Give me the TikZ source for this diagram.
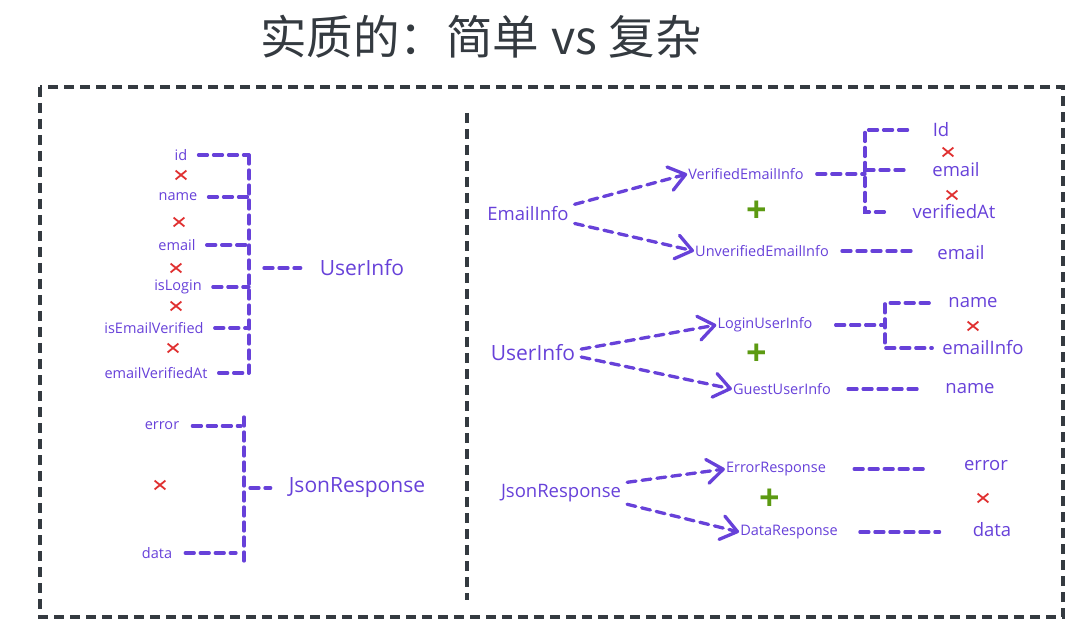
\documentclass[tikz,border=0pt]{standalone}
\usepackage{fontspec}
\usetikzlibrary{arrows.meta,shapes.misc}
\newfontfamily\handfont{Open Sans}
\newfontfamily\cjkfont{Noto Sans CJK SC}
\definecolor{vio}{HTML}{6741D9}
\definecolor{frm}{HTML}{343A40}
\definecolor{xred}{HTML}{E03131}
\definecolor{pgreen}{HTML}{5C9A12}
\tikzset{
  sm/.style={text=vio, font=\handfont\fontsize{14.5}{16}\selectfont, inner sep=1pt},
  md/.style={text=vio, font=\handfont\fontsize{18.5}{20}\selectfont, inner sep=1pt},
  lg/.style={text=vio, font=\handfont\fontsize{21}{23}\selectfont, inner sep=1pt},
  dl/.style={draw=vio, line width=3.3pt, dash pattern=on 9pt off 6pt, line cap=round},
  arr/.style={dl, shorten <=5pt, -{Straight Barb[length=16pt,width=24pt,line width=3.3pt,round]}},
  xm/.style={cross out, draw=xred, line width=1.8pt, minimum width=9pt, minimum height=7pt, inner sep=0pt},
  plusmark/.style={text=pgreen, font=\handfont\bfseries\fontsize{36}{36}\selectfont, inner sep=0pt},
  frame/.style={draw=frm, line width=3.2pt, dash pattern=on 10pt off 6pt}
}
\begin{document}
\begin{tikzpicture}[x=1pt,y=-1pt]
\useasboundingbox (0,0) rectangle (1080,631);
% title
\node[text=frm, font=\cjkfont\fontsize{46.5}{50}\selectfont, inner sep=0pt] (title) at (481,37) {实质的：简单\hspace{0.25em}vs\hspace{0.25em}复杂};
% frame and divider
\draw[frame] (40,87) rectangle (1063,617);
\coordinate (dvt) at (467,113);
\coordinate (dvb) at (467,600);
\draw[frame] (dvt) -- (dvb);

% ---------- left: UserInfo ----------
\node[sm] (id) at (181,155) {id};
\node[xm] (x1) at (181,175) {};
\node[sm] (name) at (178,197) {name};
\node[xm] (x2) at (179,222) {};
\node[sm] (email) at (177,245) {email};
\node[xm] (x3) at (176,268) {};
\node[sm] (islogin) at (178,287) {isLogin};
\node[xm] (x4) at (176,306) {};
\node[sm] (isev) at (154,328) {isEmailVerified};
\node[xm] (x5) at (173,348) {};
\node[sm] (evat) at (156,373) {emailVerifiedAt};
\coordinate (ut) at (249,155);
\coordinate (ub) at (249,373);
\draw[dl] (ut) -- (ub);
\foreach \n in {id,name,email,islogin,isev,evat}
  \draw[dl, shorten <=10pt] (\n.east) -- (\n.east -| ut);
\node[lg] (ui) at (362,268) {UserInfo};
\draw[dl, shorten <=15pt, shorten >=18pt] (ui.west -| ut) -- (ui.west);

% ---------- left: JsonResponse ----------
\node[sm] (err) at (162,426) {error};
\node[xm] (x6) at (160,485) {};
\node[sm] (data) at (157,553) {data};
\coordinate (jt) at (244,417);
\coordinate (jb) at (244,563);
\draw[dl] (jt) -- (jb);
\draw[dl, shorten <=12pt, shorten >=3pt] (err.east) -- (err.east -| jt);
\draw[dl, shorten <=12pt, shorten >=8pt] (data.east) -- (data.east -| jt);
\node[lg] (jr) at (357,488) {JsonResponse};
\draw[dl, shorten <=6pt, shorten >=17pt] (jr.west -| jt) -- (jr.west);

% ---------- right: EmailInfo ----------
\node[md] (ei) at (528,214) {EmailInfo};
\node[sm] (vei) at (746,174) {VerifiedEmailInfo};
\node[sm] (uei) at (762,251) {UnverifiedEmailInfo};
\draw[arr] (ei.north east) -- (vei.west);
\draw[arr] (ei.south east) -- (uei.west);
\node[plusmark] (p1) at (757,212) {+};
\node[md] (rid) at (941,130) {Id};
\node[xm] (x7) at (948,152) {};
\node[md] (rem) at (956,170) {email};
\node[xm] (x8) at (952,195) {};
\node[md] (rva) at (954,212) {verifiedAt};
\coordinate (bk1) at (865,172);
\draw[dl, shorten <=12pt] (vei.east) -- (vei.east -| bk1);
\draw[dl, shorten <=24pt, shorten >=22pt] (rid.west) -- (rid.west -| bk1) -- (rva.west -| bk1) -- (rva.west);
\draw[dl, shorten >=22pt] (rem.west -| bk1) -- (rem.west);
\node[md] (rem2) at (961,253) {email};
\draw[dl, shorten <=12pt, shorten >=23pt] (uei.east) -- (uei.east -| rem2.west);

% ---------- right: UserInfo ----------
\node[lg] (ui2) at (533,353) {UserInfo};
\node[sm] (lui) at (765,325) {LoginUserInfo};
\node[sm] (gui) at (782,389) {GuestUserInfo};
\draw[arr] ([yshift=3pt]ui2.east) -- (lui.west);
\draw[arr] ([yshift=-3pt]ui2.east) -- (gui.west);
\node[plusmark] (p2) at (757,355) {+};
\node[md] (rn1) at (973,303) {name};
\node[xm] (x9) at (973,326) {};
\node[md] (rei) at (983,348) {emailInfo};
\coordinate (bk2) at (885,327);
\draw[dl, shorten <=22pt] (lui.east) -- (lui.east -| bk2);
\draw[dl, shorten <=18pt, shorten >=9pt] (rn1.west) -- (rn1.west -| bk2) -- (rei.west -| bk2) -- (rei.west);
\node[md] (rn2) at (970,389) {name};
\draw[dl, shorten <=16pt, shorten >=25pt] (gui.east) -- (gui.east -| rn2.west);

% ---------- right: JsonResponse ----------
\node[md] (jr2) at (561,493) {JsonResponse};
\node[sm] (er) at (776,469) {ErrorResponse};
\node[sm] (dr) at (789,532) {DataResponse};
\draw[arr] (jr2.north east) -- (er.west);
\draw[arr] (jr2.south east) -- (dr.west);
\node[plusmark] (p3) at (770,500) {+};
\node[md] (rerr) at (986,466) {error};
\node[xm] (x10) at (983,498) {};
\node[md] (rdat) at (992,530) {data};
\draw[dl, shorten <=27pt, shorten >=37pt] (er.east) -- (er.east -| rerr.west);
\draw[dl, shorten <=21pt, shorten >=32pt] (dr.east) -- (dr.east -| rdat.west);
\end{tikzpicture}
\end{document}
